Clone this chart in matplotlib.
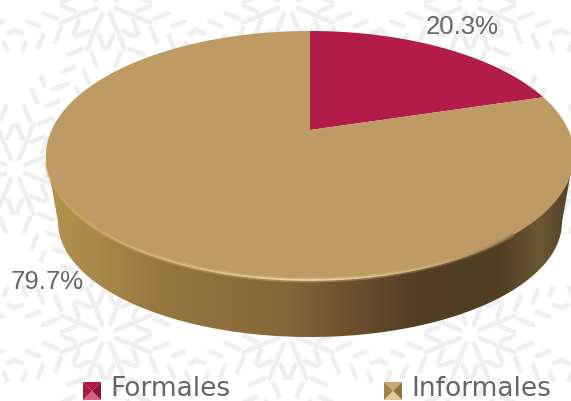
import numpy as np
import matplotlib
matplotlib.use("Agg")
import matplotlib.pyplot as plt
from matplotlib.collections import LineCollection
from matplotlib.colors import LinearSegmentedColormap
from matplotlib.patches import Polygon
from matplotlib.path import Path
from matplotlib.transforms import Affine2D, Transform

categories = ["Formales", "Informales"]
values = [20.3, 79.7]
value_labels = ["20.3%", "79.7%"]

RED = "#B31B48"
GOLD = "#BE9A64"
TEXT = "#666666"


class Perspective(Transform):
    # tilts the flat pie so the centre sits above the middle of the ellipse
    input_dims = 2
    output_dims = 2
    is_separable = False
    has_inverse = False

    def transform_non_affine(self, pts):
        pts = np.asarray(pts, dtype=float)
        w = 1 + 0.2048 * pts[:, 1]
        return np.column_stack([310 + 258.4 * pts[:, 0] / w,
                                131 - 119.3 * pts[:, 1] / w])

    def transform_path_non_affine(self, path):
        # flatten the curves first, bezier handles do not survive the tilt
        big = path.transformed(Affine2D().scale(1000))
        poly = big.to_polygons(closed_only=True)[0] / 1000
        return Path(self.transform_non_affine(poly), closed=True)


def snowflake(cx, cy, size):
    segs = []
    for k in range(8):
        a = np.pi / 4 * k + np.pi / 8
        d = np.array([np.cos(a), np.sin(a)])
        segs.append([(cx + 0.12 * size * d[0], cy + 0.12 * size * d[1]),
                     (cx + 0.55 * size * d[0], cy + 0.55 * size * d[1])])
        for f, blen in ((0.3, 0.16), (0.52, 0.17), (0.74, 0.15), (0.95, 0.1)):
            p = np.array([cx, cy]) + f * size * d
            for s in (-1, 1):
                b = a + s * np.pi / 4
                e = np.array([np.cos(b), np.sin(b)])
                segs.append([p + 0.08 * size * e, p + (0.08 + blen) * size * e])
    return segs


fig = plt.figure(figsize=(5.71, 4.02), dpi=100)
ax = fig.add_axes([0, 0, 1, 1])

# faint background pattern
segs = []
for row, cy in enumerate([5, 170, 335]):
    for col in range(5):
        segs += snowflake(col * 182 - 76 + (row % 2) * 91, cy, 88)
ax.add_collection(LineCollection(segs, colors="#EFEFEF", linewidths=3.4,
                                 capstyle="round", zorder=0))

persp = Perspective() + ax.transData

# side of the disc
t = np.linspace(np.pi, 0, 200)
side_pts = np.column_stack([310 + 252 * np.cos(t), 223 + 115 * np.sin(t)])
side_pts = np.vstack([[(46, 156)], side_pts, [(574, 156)]])
side = Polygon(side_pts, closed=True, facecolor="none", edgecolor="none", zorder=1)
ax.add_patch(side)
side_cmap = LinearSegmentedColormap.from_list("side", [
    (0.0, "#B3924E"), (0.1, "#A98949"), (0.22, "#96763F"), (0.45, "#85683A"),
    (0.62, "#64492B"), (0.7, "#523F24"), (0.86, "#4F3E22"), (0.935, "#6B5835"),
    (0.98, "#57462A"), (1.0, "#57462A")])
im = ax.imshow(np.linspace(0, 1, 256)[None, :], cmap=side_cmap, aspect="auto",
               extent=(46, 574, 340, 150), zorder=1)
im.set_clip_path(side)

# top of the disc
wedges, _ = ax.pie(values, colors=[RED, GOLD], startangle=90, counterclock=False,
                   radius=1, wedgeprops={"linewidth": 0, "zorder": 2})
for w in wedges:
    w.set_transform(persp)

# bright rim on the near edge
a = np.radians(np.linspace(195, 312, 300))
rim = persp.transform(np.column_stack([np.cos(a), np.sin(a)]))
rim = ax.transData.inverted().transform(rim)
rim_segs = np.stack([rim[:-1], rim[1:]], axis=1)
rim_cmap = LinearSegmentedColormap.from_list("rim", [
    (0.0, "#BE9A5C"), (0.3, "#D2AE6C"), (0.65, "#F0DCA8"), (0.85, "#CDAE78"), (1.0, "#8F7749")])
rim_colors = rim_cmap(np.linspace(0, 1, len(rim_segs)))
ax.add_collection(LineCollection(rim_segs, colors=rim_colors, linewidths=3.5, alpha=0.3, zorder=3))
ax.add_collection(LineCollection(rim_segs, colors=rim_colors, linewidths=1.2, zorder=3))

# value labels
ax.text(462, 27, value_labels[0], fontsize=18.5, color=TEXT, family="Liberation Sans",
        ha="center", va="center", zorder=5)
ax.text(47.5, 282, value_labels[1], fontsize=18.5, color=TEXT, family="Liberation Sans",
        ha="center", va="center", zorder=5)

# legend: small pyramid squares
legend_x = [83, 384]
text_x = [110, 411]
shades = [("#8E1238", "#B0163F", "#D75F85", "#A81A45"),
          ("#8F7443", "#C9A868", "#E0C898", "#A08349")]
for x0, tx, name, sh in zip(legend_x, text_x, categories, shades):
    y0, s = 383, 18
    c = (x0 + s / 2, y0 + s / 2)
    corners = [(x0, y0), (x0 + s, y0), (x0 + s, y0 + s), (x0, y0 + s)]
    order = [(0, 1, sh[1]), (1, 2, sh[0]), (2, 3, sh[2]), (3, 0, sh[3])]
    for i, j, col in order:
        ax.add_patch(Polygon([corners[i], corners[j], c], closed=True,
                             facecolor=col, edgecolor="none", zorder=5))
    ax.text(tx, 396, name, fontsize=19, color=TEXT, family="DejaVu Sans",
            ha="left", va="baseline", zorder=5)

ax.set_aspect("auto")
ax.set_xlim(0, 571)
ax.set_ylim(402, 0)
ax.axis("off")

fig.savefig("out.png", dpi=100, facecolor="white")
